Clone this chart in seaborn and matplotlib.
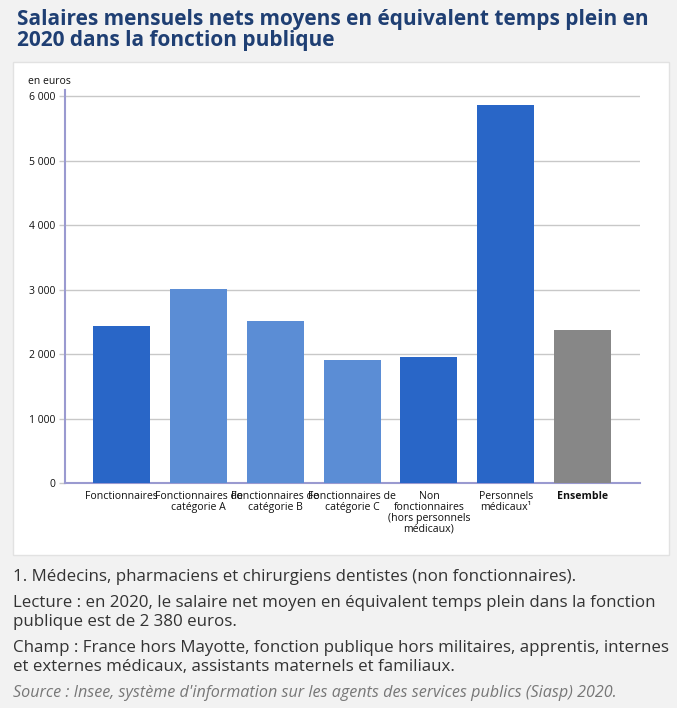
import matplotlib
matplotlib.use("Agg")
import matplotlib.pyplot as plt
import matplotlib.ticker as mticker
from matplotlib.patches import Rectangle
import seaborn as sns
import pandas as pd

# ---- data ----
categories = [
    "Fonctionnaires",
    "Fonctionnaires de\ncatégorie A",
    "Fonctionnaires de\ncatégorie B",
    "Fonctionnaires de\ncatégorie C",
    "Non\nfonctionnaires\n(hors personnels\nmédicaux)",
    "Personnels\nmédicaux¹",
    "Ensemble",
]
salaires = [2430, 3010, 2510, 1910, 1950, 5870, 2380]
bar_colors = ["#2966c7", "#5b8dd5", "#5b8dd5", "#5b8dd5", "#2966c7", "#2966c7", "#878787"]
y_ticks = [0, 1000, 2000, 3000, 4000, 5000, 6000]

title = "Salaires mensuels nets moyens en équivalent temps plein en\n2020 dans la fonction publique"
unit = "en euros"
note1 = "1. Médecins, pharmaciens et chirurgiens dentistes (non fonctionnaires)."
note2 = "Lecture : en 2020, le salaire net moyen en équivalent temps plein dans la fonction\npublique est de 2 380 euros."
note3 = "Champ : France hors Mayotte, fonction publique hors militaires, apprentis, internes\net externes médicaux, assistants maternels et familiaux."
source = "Source : Insee, système d'information sur les agents des services publics (Siasp) 2020."

df = pd.DataFrame({"categorie": categories, "salaire": salaires})

sns.set_theme(style="white")
plt.rcParams["font.family"] = ["Open Sans", "DejaVu Sans"]

W, H = 677, 708
fig = plt.figure(figsize=(W / 100, H / 100), dpi=100)
fig.patch.set_facecolor("#f2f2f2")

# white panel
fig.patches.append(Rectangle((13 / W, 1 - 555 / H), 656 / W, 493 / H,
                             transform=fig.transFigure, facecolor="white",
                             edgecolor="#e2e2e2", lw=1, zorder=-5))

ax = fig.add_axes([65 / W, 1 - 483 / H, 575 / W, 393 / H])
ax.set_facecolor("none")
ax.set_zorder(2)

sns.barplot(data=df, x="categorie", y="salaire", hue="categorie",
            palette=dict(zip(categories, bar_colors)), legend=False,
            width=0.74, saturation=1, edgecolor="none", linewidth=0,
            ax=ax, zorder=3)

ax.set_xlim(-0.74, 6.75)
ax.set_ylim(0, 6100)
ax.set_yticks(y_ticks)
ax.yaxis.set_major_formatter(mticker.FuncFormatter(lambda v, p: f"{int(v):,}".replace(",", " ")))
ax.grid(axis="y", color="#c8c8c8", lw=1, zorder=0)
ax.set_axisbelow(True)
ax.set_xlabel("")
ax.set_ylabel("")

for s in ["top", "right"]:
    ax.spines[s].set_visible(False)
for s in ["left", "bottom"]:
    ax.spines[s].set_color("#9a9ad0")
    ax.spines[s].set_linewidth(1.5)

ax.tick_params(axis="y", left=True, length=4, width=1, color="#c8c8c8",
               labelsize=7.5, labelcolor="#111111", pad=3)
ax.tick_params(axis="x", bottom=False, labelsize=7.6, labelcolor="#111111", pad=0)
for lab in ax.get_xticklabels():
    lab.set_linespacing(0.95)
    if lab.get_text() == "Ensemble":
        lab.set_fontweight("bold")

fig.text(28 / W, 1 - 82 / H, unit, fontsize=7.5, color="#111111", ha="left", va="center")

fig.text(17 / W, 1 - 30 / H, title, fontsize=15.0, fontweight="bold", color="#1f3f73",
         ha="left", va="center", linespacing=1.05)

txtc = "#333333"
fig.text(13 / W, 1 - 577 / H, note1, fontsize=12.2, color=txtc, ha="left", va="center")
fig.text(13 / W, 1 - 612.5 / H, note2, fontsize=12.2, color=txtc, ha="left", va="center",
         linespacing=1.25)
fig.text(13 / W, 1 - 657.5 / H, note3, fontsize=12.2, color=txtc, ha="left", va="center",
         linespacing=1.25)
fig.text(13 / W, 1 - 693 / H, source, fontsize=11.6, color="#777777", style="italic",
         ha="left", va="center")

fig.savefig("out.png", dpi=100, facecolor=fig.get_facecolor())
